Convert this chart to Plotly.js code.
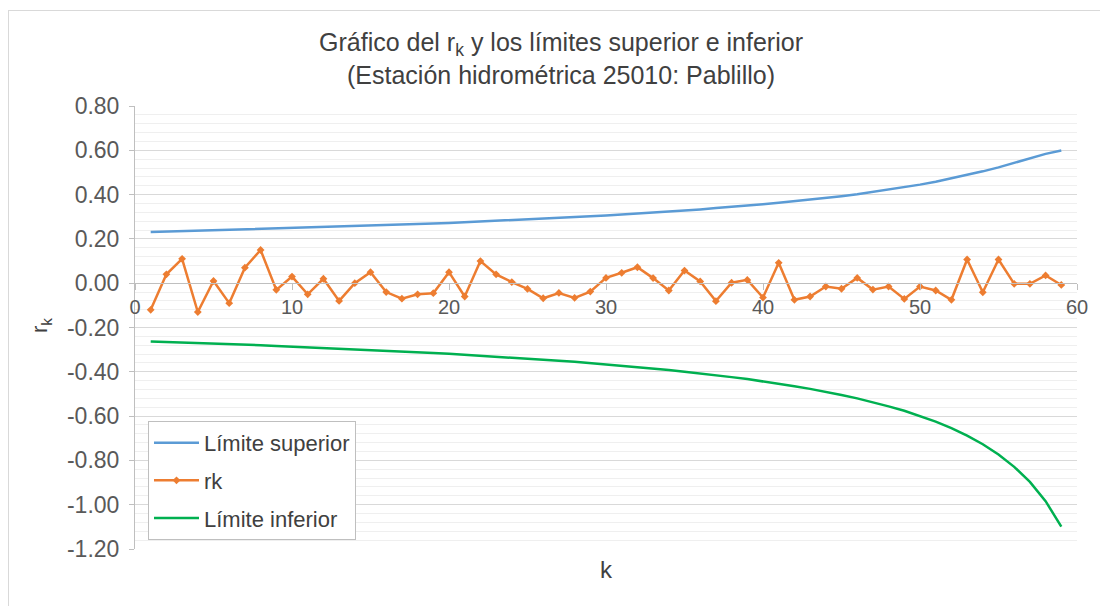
<!DOCTYPE html>
<html>
<head>
<meta charset="utf-8">
<script src="https://cdn.plot.ly/plotly-3.0.1.min.js"></script>
<style>
  html, body { margin: 0; padding: 0; background: #ffffff; overflow: hidden; }
  #chart { width: 1100px; height: 606px; }
  #frame { position: absolute; left: 8px; top: 10px; width: 1200px; height: 700px;
           border: 1px solid #d9d9d9; pointer-events: none; box-sizing: border-box; }
</style>
</head>
<body>
<div id="chart"></div>
<div id="frame"></div>
<script>
const k = [1,2,3,4,5,6,7,8,9,10,11,12,13,14,15,16,17,18,19,20,21,22,23,24,25,26,27,28,29,30,
           31,32,33,34,35,36,37,38,39,40,41,42,43,44,45,46,47,48,49,50,51,52,53,54,55,56,57,58,59];

const limiteSuperior = [0.231,0.233,0.234,0.236,0.238,0.240,0.242,0.244,0.246,0.248,
  0.250,0.252,0.254,0.257,0.259,0.262,0.264,0.267,0.269,0.272,
  0.275,0.278,0.281,0.284,0.287,0.291,0.294,0.298,0.302,0.306,
  0.310,0.314,0.319,0.323,0.328,0.333,0.339,0.344,0.350,0.356,
  0.363,0.370,0.377,0.385,0.393,0.402,0.412,0.422,0.433,0.445,
  0.458,0.473,0.488,0.505,0.523,0.543,0.564,0.584,0.599];

const rk = [-0.12,0.04,0.11,-0.13,0.01,-0.09,0.07,0.15,-0.03,0.03,
  -0.05,0.02,-0.08,0.00,0.05,-0.04,-0.07,-0.05,-0.045,0.05,
  -0.06,0.10,0.04,0.005,-0.026,-0.068,-0.044,-0.066,-0.038,0.024,
  0.047,0.072,0.023,-0.033,0.057,0.008,-0.081,0.002,0.015,-0.065,
  0.092,-0.075,-0.060,-0.015,-0.025,0.024,-0.029,-0.015,-0.071,-0.015,
  -0.033,-0.075,0.107,-0.041,0.107,-0.003,-0.003,0.035,-0.008];

const limiteInferior = [-0.263,-0.265,-0.268,-0.270,-0.272,-0.275,-0.277,-0.280,-0.283,-0.286,
  -0.288,-0.291,-0.294,-0.298,-0.301,-0.304,-0.308,-0.311,-0.315,-0.319,
  -0.323,-0.327,-0.331,-0.335,-0.340,-0.345,-0.350,-0.355,-0.361,-0.366,
  -0.372,-0.379,-0.385,-0.392,-0.400,-0.407,-0.415,-0.424,-0.433,-0.443,
  -0.454,-0.465,-0.477,-0.490,-0.505,-0.520,-0.537,-0.556,-0.576,-0.599,
  -0.625,-0.654,-0.688,-0.727,-0.773,-0.829,-0.897,-0.984,-1.099];

const seriesNames = ['Límite superior', 'rk', 'Límite inferior'];
const titleLine1 = 'Gráfico del r<sub>k</sub> y los límites superior e inferior';
const titleLine2 = '(Estación hidrométrica 25010: Pablillo)';
const xTickVals = [0,10,20,30,40,50,60];
const yTickVals = [0.8,0.6,0.4,0.2,0,-0.2,-0.4,-0.6,-0.8,-1.0,-1.2];
const yTickText = ['0.80','0.60','0.40','0.20','0.00','-0.20','-0.40','-0.60','-0.80','-1.00','-1.20'];

const FONT = 'Liberation Sans, Arial, sans-serif';
const TXT = '#595959';
const DARK = '#404040';

const traces = [
  { x: k, y: limiteSuperior, name: seriesNames[0], type: 'scatter', mode: 'lines',
    line: { color: '#5B9BD5', width: 2.5 }, legendgroup: 'a' },
  { x: k, y: rk, name: seriesNames[1], type: 'scatter', mode: 'lines+markers',
    line: { color: '#ED7D31', width: 2.5 },
    marker: { symbol: 'diamond', size: 6, color: '#ED7D31' }, legendgroup: 'b' },
  { x: k, y: limiteInferior, name: seriesNames[2], type: 'scatter', mode: 'lines',
    line: { color: '#00B050', width: 2.5 }, legendgroup: 'c' }
];

const layout = {
  width: 1100, height: 606,
  margin: { l: 135, r: 23, t: 106, b: 57 },
  paper_bgcolor: 'rgba(0,0,0,0)', plot_bgcolor: 'rgba(0,0,0,0)',
  font: { family: FONT, color: TXT, size: 20 },
  title: {
    text: titleLine1,
    xref: 'container', x: 0.51, xanchor: 'center',
    yref: 'container', y: 1 - 42 / 606, yanchor: 'middle',
    font: { family: FONT, size: 25, color: DARK }
  },
  xaxis: {
    range: [0, 60], tickvals: xTickVals, ticktext: xTickVals.map(String),
    anchor: 'free', position: 0.6,
    showline: true, linecolor: '#bfbfbf', linewidth: 1,
    ticks: 'outside', ticklen: 6, tickcolor: '#bfbfbf',
    showgrid: false, zeroline: false,
    tickfont: { family: FONT, size: 20, color: TXT }
  },
  yaxis: {
    range: [-1.2, 0.8], tickvals: yTickVals, ticktext: yTickText,
    showline: true, linecolor: '#bfbfbf', linewidth: 1,
    ticks: 'outside', ticklen: 5, tickcolor: '#bfbfbf',
    ticklabelstandoff: 5,
    showgrid: true, gridcolor: '#d9d9d9', gridwidth: 1,
    minor: { dtick: 0.04, tick0: 0, showgrid: true, gridcolor: '#efefef', gridwidth: 1, ticks: '' },
    zeroline: false,
    tickfont: { family: FONT, size: 23, color: TXT }
  },
  legend: {
    x: 0.0138, y: 0.289, xanchor: 'left', yanchor: 'top',
    bgcolor: '#ffffff', bordercolor: '#bfbfbf', borderwidth: 1,
    font: { family: FONT, size: 22, color: DARK },
    tracegroupgap: 6, traceorder: 'grouped', itemwidth: 45
  },
  annotations: [
    { text: titleLine2, xref: 'paper', yref: 'paper',
      x: (561 - 135) / 942, y: (549 - 75) / 443, xanchor: 'center', yanchor: 'middle',
      showarrow: false, font: { family: FONT, size: 25, color: DARK } },
    { text: 'k', xref: 'paper', yref: 'paper', x: 0.5, y: -0.047, xanchor: 'center', yanchor: 'middle',
      showarrow: false, font: { family: FONT, size: 24, color: DARK } },
    { text: 'r<sub>k</sub>', xref: 'paper', yref: 'paper', x: -0.099, y: 0.505, xanchor: 'center', yanchor: 'middle',
      textangle: -90, showarrow: false, font: { family: FONT, size: 22, color: DARK } }
  ],
  showlegend: true
};

Plotly.newPlot('chart', traces, layout, { displayModeBar: false, staticPlot: true });
</script>
</body>
</html>
